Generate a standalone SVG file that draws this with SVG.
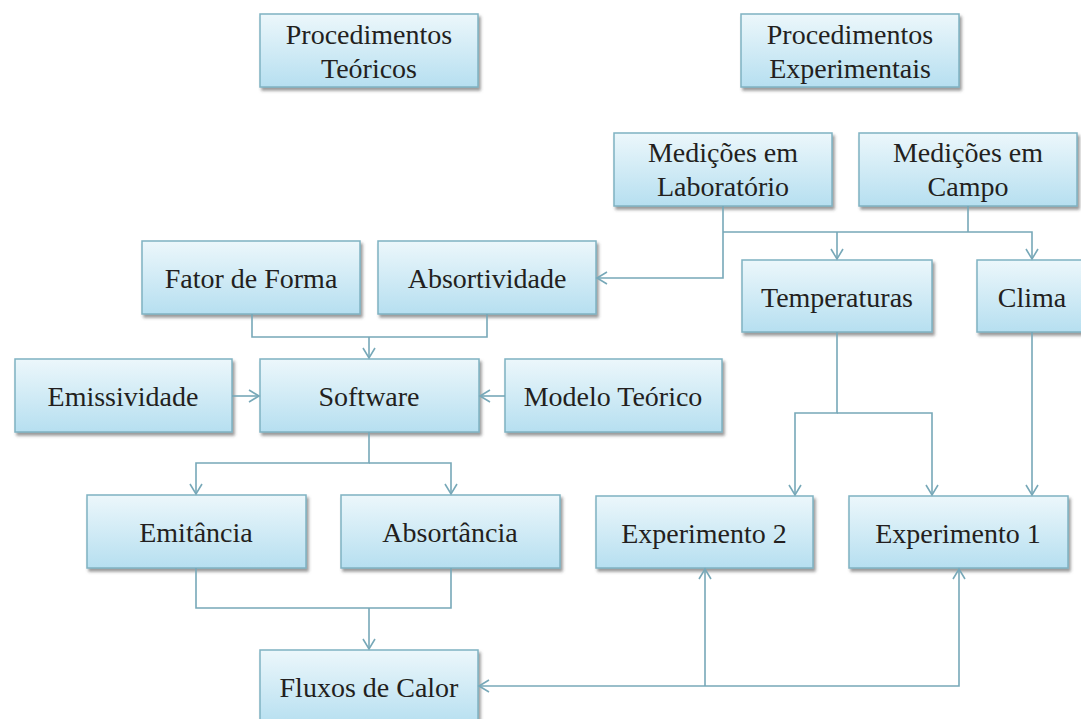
<svg xmlns="http://www.w3.org/2000/svg" width="1081" height="719" viewBox="0 0 1081 719">
<defs>
<linearGradient id="g" x1="0" y1="0" x2="0" y2="1">
<stop offset="0" stop-color="#ecf7fb"/>
<stop offset="1" stop-color="#b6dff0"/>
</linearGradient>
<filter id="sh" x="-10%" y="-10%" width="125%" height="130%">
<feDropShadow dx="2" dy="3" stdDeviation="1.5" flood-color="#555" flood-opacity="0.6"/>
</filter>
<marker id="a" viewBox="-12 -7 14 14" refX="0" refY="0" markerWidth="14" markerHeight="14" markerUnits="userSpaceOnUse" orient="auto">
<path d="M-10,-6 L0,0 L-10,6" fill="none" stroke="#77a8b8" stroke-width="1.6"/>
</marker>
</defs>
<style>
.b{fill:url(#g);stroke:#7fb2c2;stroke-width:1.5;filter:url(#sh)}
.t{font-family:"Liberation Serif","Times New Roman",serif;font-size:28px;fill:#231f20;text-anchor:middle}
.c{fill:none;stroke:#77a8b8;stroke-width:1.6}
</style>
<rect width="1081" height="719" fill="#fff"/>
<g id="procTeoricos"><rect class="b" x="260" y="14" width="218" height="73"/><text class="t" x="369" y="44">Procedimentos</text><text class="t" x="369" y="78">Teóricos</text></g>
<g id="procExperimentais"><rect class="b" x="741" y="14" width="218" height="73"/><text class="t" x="850" y="44">Procedimentos</text><text class="t" x="850" y="78">Experimentais</text></g>
<g id="medLab"><rect class="b" x="614" y="133" width="218" height="73"/><text class="t" x="723" y="162">Medições em</text><text class="t" x="723" y="196">Laboratório</text></g>
<g id="medCampo"><rect class="b" x="859" y="133" width="218" height="73"/><text class="t" x="968" y="162">Medições em</text><text class="t" x="968" y="196">Campo</text></g>
<g id="temperaturas"><rect class="b" x="742" y="260" width="190" height="72"/><text class="t" x="837" y="307">Temperaturas</text></g>
<g id="clima"><rect class="b" x="977" y="260" width="110" height="72"/><text class="t" x="1032" y="307">Clima</text></g>
<g id="fatorForma"><rect class="b" x="142" y="241" width="218" height="73"/><text class="t" x="251" y="288">Fator de Forma</text></g>
<g id="absortividade"><rect class="b" x="378" y="241" width="218" height="73"/><text class="t" x="487" y="288">Absortividade</text></g>
<g id="emissividade"><rect class="b" x="15" y="359" width="217" height="73"/><text class="t" x="123" y="406">Emissividade</text></g>
<g id="software"><rect class="b" x="260" y="359" width="219" height="73"/><text class="t" x="369" y="406">Software</text></g>
<g id="modeloTeorico"><rect class="b" x="505" y="359" width="217" height="73"/><text class="t" x="613" y="406">Modelo Teórico</text></g>
<g id="emitancia"><rect class="b" x="87" y="495" width="219" height="73"/><text class="t" x="196" y="542">Emitância</text></g>
<g id="absortancia"><rect class="b" x="341" y="495" width="219" height="73"/><text class="t" x="450" y="542">Absortância</text></g>
<g id="experimento2"><rect class="b" x="596" y="496" width="217" height="72"/><text class="t" x="704" y="543">Experimento 2</text></g>
<g id="experimento1"><rect class="b" x="849" y="496" width="219" height="72"/><text class="t" x="958" y="543">Experimento 1</text></g>
<g id="fluxosCalor"><rect class="b" x="260" y="650" width="218" height="75"/><text class="t" x="369" y="697">Fluxos de Calor</text></g>
<g id="connectors">
<path class="c" d="M723,206 V278 H597" marker-end="url(#a)"/>
<path class="c" d="M723,232 H1032 V259" marker-end="url(#a)"/>
<path class="c" d="M968,206 V232"/>
<path class="c" d="M837,232 V259" marker-end="url(#a)"/>
<path class="c" d="M252,314 V337 H487 V314"/>
<path class="c" d="M369,337 V358" marker-end="url(#a)"/>
<path class="c" d="M232,396 H259" marker-end="url(#a)"/>
<path class="c" d="M505,396 H480" marker-end="url(#a)"/>
<path class="c" d="M369,432 V463 H196 V494" marker-end="url(#a)"/>
<path class="c" d="M369,463 H451 V494" marker-end="url(#a)"/>
<path class="c" d="M196,568 V608 H451 V568"/>
<path class="c" d="M369,608 V649" marker-end="url(#a)"/>
<path class="c" d="M837,332 V413 H795 V495" marker-end="url(#a)"/>
<path class="c" d="M837,413 H932 V495" marker-end="url(#a)"/>
<path class="c" d="M1032,332 V495" marker-end="url(#a)"/>
<path class="c" d="M705,686 H479" marker-end="url(#a)"/>
<path class="c" d="M705,686 V569" marker-end="url(#a)"/>
<path class="c" d="M705,686 H959 V569" marker-end="url(#a)"/>
</g>
</svg>
